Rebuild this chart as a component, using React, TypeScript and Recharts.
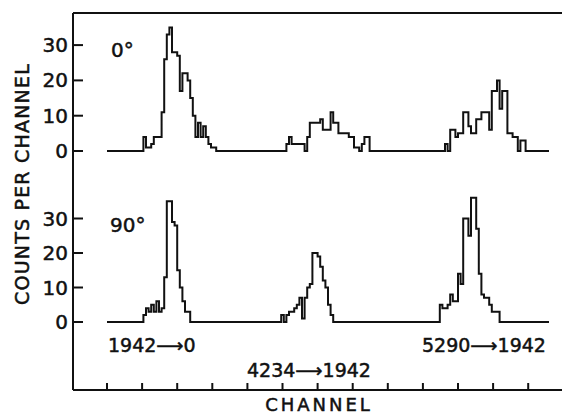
import React from 'react';
import { LineChart, Line, XAxis, YAxis } from 'recharts';

// channel axis: one unit per histogram bin, bin 0 sits under the first bottom tick
const LAST_CHANNEL = 170;
const CHANNEL_DOMAIN: [number, number] = [-13.08, 175];
const CHANNEL_TICKS = [0, 13.5, 27, 40.5, 54, 67.5, 81, 94.5, 108, 121.5, 135, 148.5, 162];
const COUNT_TICKS = [0, 10, 20, 30];

// 0 degrees (upper panel), counts per bin, with first bin index
const TOP_1942_0_START = 14;
const TOP_1942_0 = [4, 1, 1, 2, 4, 4, 4, 11, 26, 33, 35, 28, 28, 27, 17, 22, 22, 20, 15, 10, 4, 8, 4, 7, 4, 2, 1, 1];
const TOP_4234_1942_START = 69;
const TOP_4234_1942 = [2, 4, 2, 2, 2, 2, 2, 0, 4, 8, 8, 8, 8, 9, 6, 6, 6, 11, 8, 8, 5, 5, 5, 5, 4, 4, 1, 1, 0, 2, 4, 4];
const TOP_5290_1942_START = 130;
const TOP_5290_1942 = [2, 0, 6, 6, 4, 5, 5, 11, 11, 7, 5, 5, 9, 9, 11, 11, 11, 6, 17, 17, 20, 12, 17, 17, 5, 5, 4, 4, 0, 3, 3];

// 90 degrees (lower panel)
const BOT_1942_0_START = 14;
const BOT_1942_0 = [2, 4, 3, 5, 3, 6, 3, 4, 13, 35, 35, 29, 28, 15, 10, 6, 3, 3];
const BOT_4234_1942_START = 67;
const BOT_4234_1942 = [2, 0, 2, 3, 3, 4, 5, 7, 1, 7, 10, 11, 20, 20, 19, 16, 12, 10, 5, 2];
const BOT_5290_1942_START = 128;
const BOT_5290_1942 = [5, 4, 4, 5, 8, 6, 6, 14, 11, 30, 30, 25, 36, 36, 27, 14, 8, 7, 7, 5, 3, 3, 3];

const FONT = '"DejaVu Sans", sans-serif';
const INK = '#111';

const buildSpectrum = (peaks: [number, number[]][]) => {
  const rows: { ch: number; n: number }[] = [];
  for (let ch = 0; ch <= LAST_CHANNEL; ch++) rows.push({ ch, n: 0 });
  peaks.forEach(([start, counts]) => {
    counts.forEach((c, i) => {
      if (rows[start + i]) rows[start + i].n = c;
    });
  });
  return rows;
};

const topData = buildSpectrum([
  [TOP_1942_0_START, TOP_1942_0],
  [TOP_4234_1942_START, TOP_4234_1942],
  [TOP_5290_1942_START, TOP_5290_1942]
]);
const botData = buildSpectrum([
  [BOT_1942_0_START, BOT_1942_0],
  [BOT_4234_1942_START, BOT_4234_1942],
  [BOT_5290_1942_START, BOT_5290_1942]
]);

const countTick = { fill: INK, stroke: INK, strokeWidth: 0.5, fontSize: 20, fontFamily: FONT };
const axisStroke = { stroke: INK, strokeWidth: 2 };

export default function App() {
  return (
    <div style={{ position: 'relative', width: 563, height: 416, background: '#fff' }}>
      <style>{'body{margin:0}'}</style>

      <div style={{ position: 'absolute', left: 0, top: 0 }}>
        <LineChart width={563} height={170} data={topData} margin={{ top: 12, right: 1, bottom: 0, left: 0 }}>
          <XAxis
            type="number"
            dataKey="ch"
            domain={CHANNEL_DOMAIN}
            allowDataOverflow
            orientation="top"
            height={1}
            tick={false}
            tickLine={false}
            axisLine={axisStroke}
          />
          <YAxis
            type="number"
            domain={[-5.38, 39.09]}
            allowDataOverflow
            ticks={COUNT_TICKS}
            interval={0}
            width={73}
            tickSize={-10}
            tickMargin={15}
            tick={countTick}
            tickLine={axisStroke}
            axisLine={axisStroke}
          />
          <Line
            type="stepAfter"
            dataKey="n"
            stroke={INK}
            strokeWidth={2}
            dot={false}
            isAnimationActive={false}
          />
        </LineChart>
      </div>

      <div style={{ position: 'absolute', left: 0, top: 170 }}>
        <LineChart width={563} height={246} data={botData} margin={{ top: 0, right: 1, bottom: 0, left: 0 }}>
          <XAxis
            type="number"
            dataKey="ch"
            domain={CHANNEL_DOMAIN}
            allowDataOverflow
            ticks={CHANNEL_TICKS}
            interval={0}
            height={26}
            tickSize={-7}
            tickFormatter={() => ''}
            tickLine={axisStroke}
            axisLine={axisStroke}
          />
          <YAxis
            type="number"
            domain={[-19.71, 44.06]}
            allowDataOverflow
            ticks={COUNT_TICKS}
            interval={0}
            width={73}
            tickSize={-10}
            tickMargin={15}
            tick={countTick}
            tickLine={axisStroke}
            axisLine={axisStroke}
          />
          <Line
            type="stepAfter"
            dataKey="n"
            stroke={INK}
            strokeWidth={2}
            dot={false}
            isAnimationActive={false}
          />
        </LineChart>
      </div>

      <svg
        width={563}
        height={416}
        style={{ position: 'absolute', left: 0, top: 0, pointerEvents: 'none' }}
        fontFamily={FONT}
        fill={INK}
        stroke={INK}
        strokeWidth={0.5}
      >
        <text x={29} y={184} fontSize={19} letterSpacing={1.2} textAnchor="middle" transform="rotate(-90 29 184)">
          COUNTS PER CHANNEL
        </text>
        <text x={319} y={411} fontSize={18} letterSpacing={3} textAnchor="middle">CHANNEL</text>
        <text x={111} y={57} fontSize={20}>0°</text>
        <text x={110} y={232} fontSize={20}>90°</text>
        <text x={108} y={352} fontSize={19}>1942⟶0</text>
        <text x={247} y={377} fontSize={19}>4234⟶1942</text>
        <text x={422} y={352} fontSize={19}>5290⟶1942</text>
      </svg>
    </div>
  );
}
